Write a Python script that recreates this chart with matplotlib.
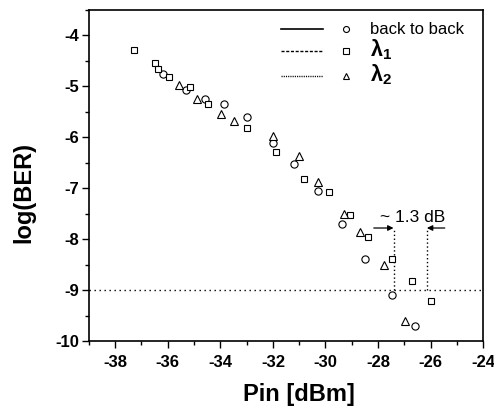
import matplotlib
matplotlib.use("Agg")
import matplotlib.pyplot as plt
from matplotlib.lines import Line2D
from matplotlib.legend_handler import HandlerTuple

plt.rcParams['font.family'] = ['Liberation Sans', 'DejaVu Sans']
plt.rcParams['mathtext.fontset'] = 'custom'
plt.rcParams['mathtext.rm'] = 'Liberation Sans'
plt.rcParams['mathtext.it'] = 'Liberation Sans'
plt.rcParams['mathtext.bf'] = 'Liberation Sans:bold'

# ---- data ----
b2b_x = [-36.19, -35.29, -34.58, -33.87, -33.00, -31.99, -31.19, -30.29, -29.38, -28.48, -27.47, -26.58]
b2b_y = [-4.75, -5.07, -5.25, -5.34, -5.60, -6.12, -6.52, -7.06, -7.70, -8.39, -9.09, -9.70]

l1_x = [-37.28, -36.48, -36.39, -35.97, -35.16, -34.47, -33.00, -31.89, -30.81, -29.88, -29.08, -28.38, -27.47, -26.69, -25.98]
l1_y = [-4.29, -4.54, -4.65, -4.81, -5.01, -5.34, -5.81, -6.29, -6.81, -7.07, -7.52, -7.95, -8.39, -8.82, -9.21]

l2_x = [-35.58, -34.87, -33.98, -33.48, -31.99, -30.99, -30.29, -29.31, -28.70, -27.79, -26.99]
l2_y = [-4.98, -5.24, -5.55, -5.68, -5.98, -6.37, -6.87, -7.50, -7.86, -8.50, -9.60]

labels = ["back to back", r"$\mathbf{\lambda}_\mathbf{1}$", r"$\mathbf{\lambda}_\mathbf{2}$"]
ber_ref = -9
sens_b2b = -27.41
sens_l1 = -26.14
arrow_level = -7.78
penalty_text = "~ 1.3 dB"

x_ticks = [-38, -36, -34, -32, -30, -28, -26, -24]
y_ticks = [-10, -9, -8, -7, -6, -5, -4]

# ---- figure ----
fig = plt.figure(figsize=(4.94, 4.13), dpi=100)
ax = fig.add_axes([0.180, 0.174, 0.798, 0.802])

mk = dict(linestyle='none', mfc='white', mec='black', mew=0.8)
ax.plot(b2b_x, b2b_y, marker='o', ms=5.2, **mk, zorder=3)
ax.plot(l1_x, l1_y, marker='s', ms=4.6, **mk, zorder=3)
ax.plot(l2_x, l2_y, marker='^', ms=5.4, **mk, zorder=3)

ax.axhline(ber_ref, color='black', lw=1.0, dashes=(1, 2.6), zorder=2)
ax.plot([sens_b2b, sens_b2b], [ber_ref, arrow_level], color='black', lw=1.0, dashes=(1, 1.8))
ax.plot([sens_l1, sens_l1], [ber_ref, arrow_level], color='black', lw=1.0, dashes=(1, 1.8))
ax.annotate('', xy=(sens_b2b, arrow_level), xytext=(sens_b2b - 0.75, arrow_level),
            arrowprops=dict(arrowstyle='-|>', color='black', lw=0.9, mutation_scale=8,
                            shrinkA=0, shrinkB=0))
ax.annotate('', xy=(sens_l1, arrow_level), xytext=(sens_l1 + 0.68, arrow_level),
            arrowprops=dict(arrowstyle='-|>', color='black', lw=0.9, mutation_scale=8,
                            shrinkA=0, shrinkB=0))
ax.text((sens_b2b + sens_l1) / 2 + 0.1, arrow_level + 0.06, penalty_text, ha='center', va='bottom',
        fontsize=12.5)

ax.set_xlim(-39, -24)
ax.set_ylim(-10, -3.5)
ax.set_xticks(x_ticks)
ax.set_yticks(y_ticks)
ax.set_xticks([v + 1 for v in x_ticks[:-1]] + [-39], minor=True)
ax.set_yticks([v + 0.5 for v in y_ticks], minor=True)
ax.set_xticklabels([str(v) for v in x_ticks])
ax.set_yticklabels([str(v) for v in y_ticks])
for lbl in ax.get_xticklabels() + ax.get_yticklabels():
    lbl.set_fontweight('bold')
    lbl.set_fontsize(12)
ax.tick_params(axis='both', which='major', direction='out', length=5, width=1.0)
ax.tick_params(axis='both', which='minor', direction='out', length=3, width=1.0)
ax.tick_params(axis='x', pad=5)
ax.tick_params(axis='y', pad=2)
for s in ax.spines.values():
    s.set_linewidth(1.2)

ax.set_xlabel('Pin [dBm]', fontsize=17, fontweight='bold')
ax.set_ylabel('log(BER)', fontsize=17, fontweight='bold')
ax.xaxis.set_label_coords(0.534, -0.125)
ax.yaxis.set_label_coords(-0.135, 0.45)

# legend: line sample + marker sample + text
lm = dict(ls='none', mfc='white', mec='black', mew=0.8)
handles = [
    (Line2D([], [], color='black', lw=1.2, ls='-'),
     Line2D([], [], marker='o', ms=4.3, **lm)),
    (Line2D([], [], color='black', lw=1.0, dashes=(2.2, 1.2)),
     Line2D([], [], marker='s', ms=4.0, **lm)),
    (Line2D([], [], color='black', lw=1.0, dashes=(0.8, 0.8)),
     Line2D([], [], marker='^', ms=4.6, **lm)),
]
leg = ax.legend(handles, labels, handler_map={tuple: HandlerTuple(ndivide=None, pad=0.12)},
                loc='upper left', bbox_to_anchor=(0.487, 0.962), frameon=False,
                fontsize=12, handlelength=5.2, handletextpad=0.15, labelspacing=0.02,
                borderpad=0, borderaxespad=0)
for t in leg.get_texts()[1:]:
    t.set_fontsize(15.5)

fig.savefig('out.png', dpi=100)
